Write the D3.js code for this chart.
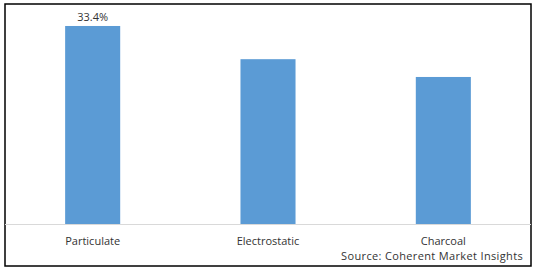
<!DOCTYPE html>
<html>
<head>
<meta charset="utf-8">
<script src="https://cdn.jsdelivr.net/npm/d3@7"></script>
<style>
  body { margin: 0; background: #fff; }
  text { font-family: "Open Sans", sans-serif; }
</style>
</head>
<body>
<svg width="538" height="272"></svg>
<script>
// chart data
const categories = ["Particulate", "Electrostatic", "Charcoal"];
const shares = [33.4, 27.8, 24.8];
const labels = ["33.4%", "", ""];
const source = "Source: Coherent Market Insights";

const svg = d3.select("svg");

// outer frame
svg.append("rect")
    .attr("x", 5).attr("y", 4)
    .attr("width", 526).attr("height", 262)
    .attr("fill", "none").attr("stroke", "#000").attr("stroke-width", 1.5);

const xScale = d3.scaleBand().domain(categories).range([5, 531])
    .paddingInner(0.686).paddingOuter(0.343);
const yScale = d3.scaleLinear().domain([0, 35]).range([224, 16.5]);

// bars
svg.selectAll(".bar").data(categories).enter().append("rect")
    .attr("fill", "#5B9BD5")
    .attr("x", d => xScale(d))
    .attr("y", (d, i) => yScale(shares[i]))
    .attr("width", xScale.bandwidth())
    .attr("height", (d, i) => yScale(0) - yScale(shares[i]));

// baseline axis
const axis = svg.append("g").attr("transform", "translate(0,224)")
    .call(d3.axisBottom(xScale).tickSize(0).tickPadding(13));
axis.select(".domain").attr("stroke", "#d9d9d9").attr("stroke-width", 1)
    .attr("d", "M5,0.5H531");
axis.selectAll("text").attr("font-size", 11).attr("fill", "#333")
    .attr("font-family", "'Open Sans', sans-serif");

// value labels
svg.selectAll(".lbl").data(categories).enter().append("text")
    .attr("x", d => xScale(d) + xScale.bandwidth() / 2)
    .attr("y", (d, i) => yScale(shares[i]) - 5)
    .attr("text-anchor", "middle")
    .attr("font-size", 11).attr("fill", "#333")
    .text((d, i) => labels[i]);

// source note
svg.append("text")
    .attr("x", 523).attr("y", 260)
    .attr("text-anchor", "end")
    .attr("font-size", 11).attr("fill", "#333")
    .attr("letter-spacing", 0.35)
    .text(source);
</script>
</body>
</html>
